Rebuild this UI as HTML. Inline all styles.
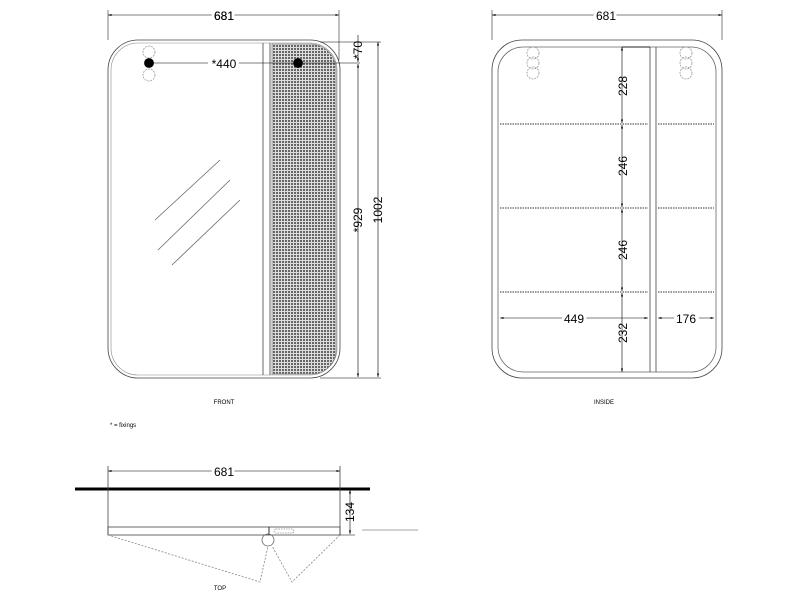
<!DOCTYPE html>
<html><head><style>body{margin:0;background:#fff}svg{display:block}text{font-family:"Liberation Sans",sans-serif;fill:#000}</style></head>
<body>
<svg width="800" height="600" viewBox="0 0 800 600" xmlns="http://www.w3.org/2000/svg">
<defs>
<marker id="a" viewBox="0 0 10 10" refX="10" refY="5" markerWidth="6" markerHeight="6" orient="auto-start-reverse"><path d="M0,2 L10,5 L0,8z" fill="#000"/></marker>
<pattern id="m" width="3" height="3" patternUnits="userSpaceOnUse"><rect width="3" height="3" fill="#ddd"/><rect width="2" height="2" fill="#666"/></pattern>
</defs>
<g fill="none" stroke="#000" stroke-width="0.8">
<!-- FRONT -->
<rect x="108" y="40" width="232" height="338" rx="30" stroke="#444"/>
<rect x="111" y="43" width="226" height="332" rx="27" stroke="#888" stroke-width="0.6"/>
<line x1="263" y1="43" x2="263" y2="375" stroke="#444"/>
<line x1="270" y1="43" x2="270" y2="375" stroke="#444"/>
<path d="M272,44 H310 a26,26 0 0 1 26,26 V350 a24,24 0 0 1 -24,24 H272z" fill="url(#m)" stroke="#888"/>
<line x1="155" y1="220" x2="220" y2="160" stroke="#666"/>
<line x1="158" y1="250" x2="230" y2="180" stroke="#666"/>
<line x1="172" y1="265" x2="240" y2="200" stroke="#666"/>
<g stroke="#999" stroke-dasharray="2,1"><circle cx="149" cy="52" r="6"/><circle cx="149" cy="75" r="6"/></g>
<circle cx="149" cy="63" r="4.5" fill="#000"/>
<circle cx="298" cy="63" r="4.5" fill="#000"/>
<line x1="149" y1="63" x2="360" y2="63" stroke-width="0.6"/>
<line x1="108" y1="10" x2="108" y2="40" stroke-width="0.5"/>
<line x1="339" y1="10" x2="339" y2="60" stroke-width="0.5"/>
<line x1="108" y1="15" x2="339" y2="15" stroke-width="0.6" marker-start="url(#a)" marker-end="url(#a)"/>
<line x1="320" y1="42" x2="381" y2="42" stroke-width="0.5"/>
<line x1="320" y1="378" x2="381" y2="378" stroke-width="0.5"/>
<line x1="358" y1="35" x2="358" y2="62" stroke-width="0.6" marker-end="url(#a)"/>
<line x1="358" y1="64" x2="358" y2="377" stroke-width="0.6" marker-start="url(#a)" marker-end="url(#a)"/>
<line x1="378" y1="42" x2="378" y2="377" stroke-width="0.6" marker-start="url(#a)" marker-end="url(#a)"/>
<!-- INSIDE -->
<rect x="492" y="40" width="230" height="338" rx="30" stroke="#444"/>
<rect x="498" y="47" width="218" height="325" rx="25" stroke="#666"/>
<line x1="650" y1="47" x2="650" y2="372" stroke="#444"/>
<line x1="656" y1="47" x2="656" y2="372" stroke="#444"/>
<line x1="622" y1="47" x2="650" y2="47"/>
<g stroke="#999" stroke-dasharray="2,1"><circle cx="533" cy="53" r="6"/><circle cx="533" cy="63" r="6"/><circle cx="533" cy="73" r="6"/><circle cx="686" cy="53" r="6"/><circle cx="686" cy="63" r="6"/><circle cx="686" cy="73" r="6"/></g>
<g stroke="#777" stroke-dasharray="1.5,1" stroke-width="1.5"><line x1="500" y1="124" x2="648" y2="124"/><line x1="658" y1="124" x2="714" y2="124"/><line x1="500" y1="208" x2="648" y2="208"/><line x1="658" y1="208" x2="714" y2="208"/><line x1="500" y1="292" x2="648" y2="292"/><line x1="658" y1="292" x2="714" y2="292"/></g>
<line x1="492" y1="10" x2="492" y2="40" stroke-width="0.5"/>
<line x1="722" y1="10" x2="722" y2="40" stroke-width="0.5"/>
<line x1="492" y1="15" x2="722" y2="15" stroke-width="0.6" marker-start="url(#a)" marker-end="url(#a)"/>
<g stroke-width="0.6">
<line x1="622" y1="47" x2="622" y2="123" marker-start="url(#a)" marker-end="url(#a)"/>
<line x1="622" y1="125" x2="622" y2="207" marker-start="url(#a)" marker-end="url(#a)"/>
<line x1="622" y1="209" x2="622" y2="291" marker-start="url(#a)" marker-end="url(#a)"/>
<line x1="622" y1="293" x2="622" y2="372" marker-start="url(#a)" marker-end="url(#a)"/>
<line x1="500" y1="318" x2="648" y2="318" marker-start="url(#a)" marker-end="url(#a)"/>
<line x1="658" y1="318" x2="714" y2="318" marker-start="url(#a)" marker-end="url(#a)"/>
</g>
<!-- TOP -->
<line x1="75" y1="489" x2="370" y2="489" stroke-width="3"/>
<line x1="108" y1="466" x2="108" y2="535" stroke="#444"/>
<line x1="340" y1="466" x2="340" y2="535" stroke="#444"/>
<line x1="108" y1="471" x2="340" y2="471" stroke-width="0.6" marker-start="url(#a)" marker-end="url(#a)"/>
<rect x="108" y="527" width="232" height="8" stroke="#444"/>
<line x1="269" y1="527" x2="269" y2="535"/>
<rect x="274" y="529" width="20" height="4" rx="2" stroke="#999" stroke-dasharray="1.5,1"/>
<circle cx="268" cy="540" r="6" stroke="#666"/>
<g stroke="#888" stroke-dasharray="2,1.5"><path d="M108,535 L260,582 L268,546"/><path d="M340,535 L292,582 L272,546"/></g>
<line x1="340" y1="535" x2="355" y2="535" stroke-width="0.5"/>
<line x1="350" y1="490" x2="350" y2="534" stroke-width="0.6" marker-start="url(#a)" marker-end="url(#a)"/>
<line x1="362" y1="530" x2="418" y2="530" stroke="#888"/>
</g>
<g font-size="12">
<text x="224" y="20" text-anchor="middle" style="paint-order:stroke" stroke="#fff" stroke-width="6">681</text>
<text x="224" y="20" text-anchor="middle">681</text>
<text x="224" y="68" text-anchor="middle" stroke="#fff" stroke-width="6">*440</text>
<text x="224" y="68" text-anchor="middle">*440</text>
<text transform="translate(362,50) rotate(-90)" text-anchor="middle">*70</text>
<text transform="translate(362,220) rotate(-90)" text-anchor="middle">*929</text>
<text transform="translate(382,210) rotate(-90)" text-anchor="middle">1002</text>
<text x="606" y="20" text-anchor="middle" stroke="#fff" stroke-width="6">681</text>
<text x="606" y="20" text-anchor="middle">681</text>
<text transform="translate(627,86) rotate(-90)" text-anchor="middle">228</text>
<text transform="translate(627,166) rotate(-90)" text-anchor="middle">246</text>
<text transform="translate(627,250) rotate(-90)" text-anchor="middle">246</text>
<text transform="translate(627,333) rotate(-90)" text-anchor="middle">232</text>
<text x="574" y="323" text-anchor="middle" stroke="#fff" stroke-width="6">449</text>
<text x="574" y="323" text-anchor="middle">449</text>
<text x="686" y="323" text-anchor="middle" stroke="#fff" stroke-width="6">176</text>
<text x="686" y="323" text-anchor="middle">176</text>
<text x="224" y="476" text-anchor="middle" stroke="#fff" stroke-width="6">681</text>
<text x="224" y="476" text-anchor="middle">681</text>
<text transform="translate(354,512) rotate(-90)" text-anchor="middle">134</text>
</g>
<g font-size="6">
<text x="224" y="404" text-anchor="middle">FRONT</text>
<text x="604" y="404" text-anchor="middle">INSIDE</text>
<text x="110" y="427">* = fixings</text>
<text x="220" y="590" text-anchor="middle">TOP</text>
</g>
</svg>
</body></html>
